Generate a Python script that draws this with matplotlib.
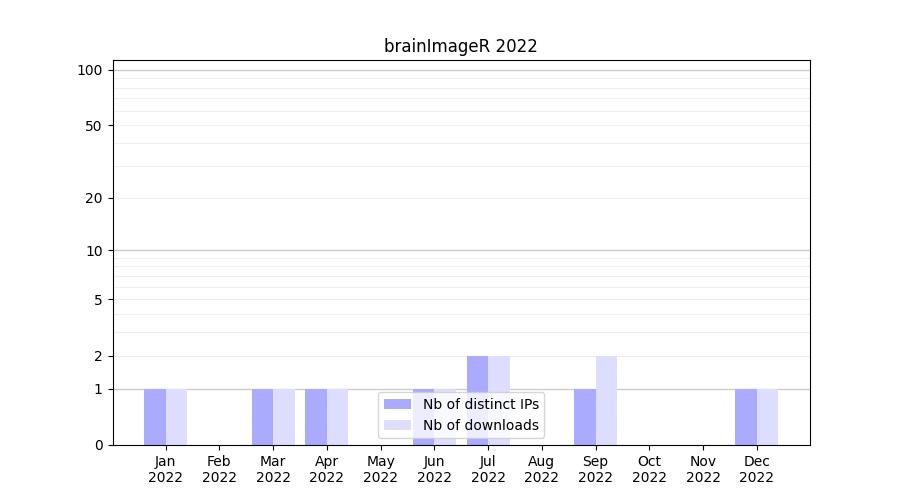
import numpy as np
import matplotlib
matplotlib.use("Agg")
import matplotlib.pyplot as plt

months = ["Jan", "Feb", "Mar", "Apr", "May", "Jun", "Jul", "Aug", "Sep", "Oct", "Nov", "Dec"]
year = "2022"
distinct_ips = [1, 0, 1, 1, 0, 1, 2, 0, 1, 0, 0, 1]
downloads = [1, 0, 1, 1, 0, 1, 2, 0, 2, 0, 0, 1]
ytick_values = [0, 1, 2, 5, 10, 20, 50, 100]

fig, ax = plt.subplots(figsize=(9, 5), dpi=100)
ax.set_yscale("function", functions=(np.log1p, np.expm1))

x = np.arange(len(months))
width = 0.4
ax.bar(x - width / 2, distinct_ips, width, color="#aaaaff", label="Nb of distinct IPs", zorder=2)
ax.bar(x + width / 2, downloads, width, color="#ddddff", label="Nb of downloads", zorder=2)

# grid: decades darker, in-between values lighter
for d in [1, 10, 100]:
    ax.axhline(d, color="#cccccc", linewidth=1, zorder=1)
minor = [m * d for d in [1, 10] for m in range(2, 10)]
for v in minor:
    ax.axhline(v, color="#eeeeee", linewidth=0.8, zorder=1)

ax.set_ylim(0, 113)
ax.set_yticks(ytick_values)
ax.set_yticklabels([str(v) for v in ytick_values])
ax.yaxis.set_minor_locator(matplotlib.ticker.NullLocator())
ax.set_xticks(x)
ax.set_xticklabels([f"{m}\n{year}" for m in months])
ax.set_title("brainImageR 2022")
ax.legend(loc="lower center")

plt.savefig("out.png")
